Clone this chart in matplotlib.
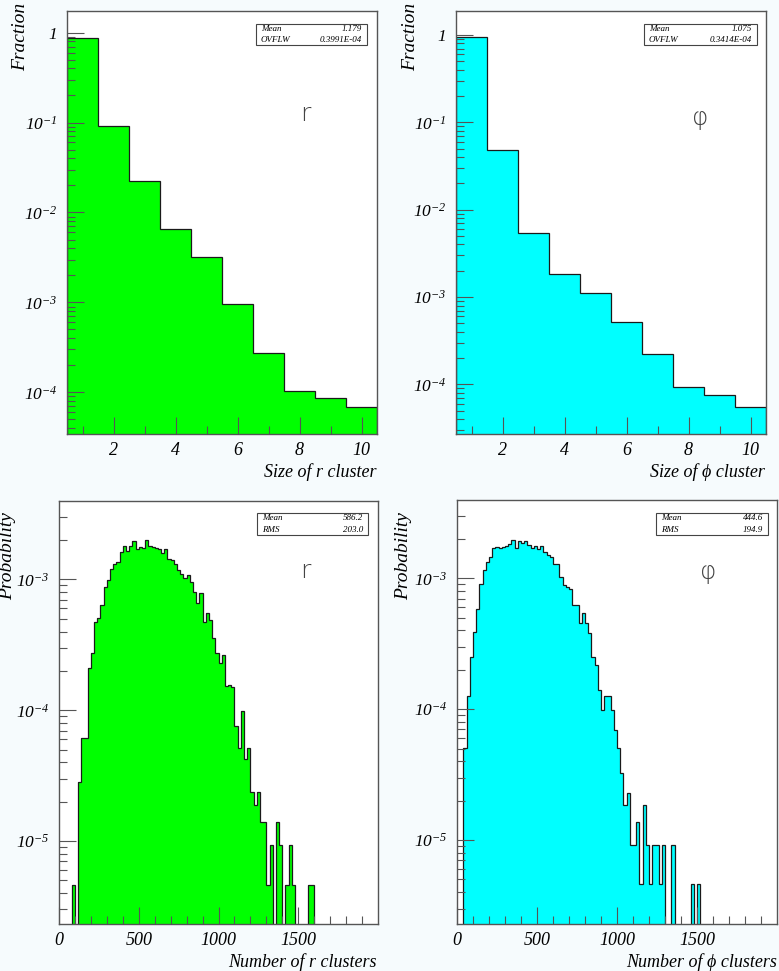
import numpy as np
import matplotlib.pyplot as plt
from matplotlib.ticker import FixedLocator, LogLocator, FuncFormatter, NullFormatter
from matplotlib.patches import Rectangle

# cluster size distributions (fraction per size bin 1..10)
size_bins = np.arange(1, 11)
size_r = [0.865, 0.0926, 0.0225, 0.00647, 0.00319, 9.5e-4, 2.74e-4, 1.03e-4, 8.58e-5, 6.81e-5]
size_phi = [0.95, 0.0479, 0.00543, 0.00183, 0.00111, 5.22e-4, 2.23e-4, 9.3e-5, 7.6e-5, 5.5e-5]

# number of clusters per event, 100 bins of 20 from 0 to 2000
n_edges = np.arange(0, 2001, 20)
num_r = [0, 0, 0, 0, 4.65e-6, 0, 2.82e-5, 6.11e-5, 6.11e-5, 2.09e-4,
         2.76e-4, 4.70e-4, 5.04e-4, 6.37e-4, 8.69e-4, 9.89e-4, 1.21e-3, 1.32e-3, 1.36e-3, 1.62e-3,
         1.80e-3, 1.64e-3, 1.80e-3, 1.97e-3, 1.71e-3, 1.77e-3, 1.75e-3, 2.02e-3, 1.80e-3, 1.77e-3,
         1.75e-3, 1.71e-3, 1.58e-3, 1.71e-3, 1.44e-3, 1.41e-3, 1.32e-3, 1.19e-3, 1.11e-3, 1.02e-3,
         1.08e-3, 9.60e-4, 8.05e-4, 6.56e-4, 7.82e-4, 4.75e-4, 5.57e-4, 4.90e-4, 3.55e-4, 2.76e-4,
         2.29e-4, 2.64e-4, 1.53e-4, 1.56e-4, 1.50e-4, 7.64e-5, 5.13e-5, 9.88e-5, 4.25e-5, 5.13e-5,
         2.36e-5, 1.89e-5, 2.36e-5, 1.40e-5, 1.40e-5, 4.65e-6, 9.3e-6, 0, 1.40e-5, 9.3e-6,
         0, 4.65e-6, 9.3e-6, 4.65e-6, 0, 0, 0, 0, 4.65e-6, 4.65e-6] + [0] * 20
num_phi = [0, 0, 5.02e-5, 1.25e-4, 2.49e-4, 3.91e-4, 5.79e-4, 9.05e-4, 1.16e-3, 1.32e-3,
           1.45e-3, 1.69e-3, 1.72e-3, 1.69e-3, 1.72e-3, 1.77e-3, 1.83e-3, 1.96e-3, 1.69e-3, 1.94e-3,
           1.87e-3, 1.91e-3, 1.80e-3, 1.69e-3, 1.77e-3, 1.67e-3, 1.77e-3, 1.60e-3, 1.51e-3, 1.45e-3,
           1.29e-3, 1.29e-3, 1.03e-3, 8.89e-4, 8.53e-4, 8.24e-4, 6.25e-4, 6.25e-4, 4.58e-4, 5.40e-4,
           4.58e-4, 3.85e-4, 2.52e-4, 2.18e-4, 1.40e-4, 9.86e-5, 1.25e-4, 1.25e-4, 9.86e-5, 6.93e-5,
           5.02e-5, 3.24e-5, 1.85e-5, 2.30e-5, 9.2e-6, 9.2e-6, 1.38e-5, 4.6e-6, 1.85e-5, 9.2e-6,
           4.6e-6, 9.2e-6, 9.2e-6, 4.6e-6, 9.2e-6, 0, 0, 9.2e-6, 0, 0,
           0, 0, 0, 4.6e-6, 0, 4.6e-6] + [0] * 24

stats = [
    [("Mean", "1.179"), ("OVFLW", "0.3991E-04")],
    [("Mean", "1.075"), ("OVFLW", "0.3414E-04")],
    [("Mean", "586.2"), ("RMS", "203.0")],
    [("Mean", "444.6"), ("RMS", "194.9")],
]

GREEN = "#00ff00"
CYAN = "#00ffff"
FRAME = "#555555"

plt.rcParams["font.family"] = ["Liberation Serif", "DejaVu Serif"]
plt.rcParams["font.style"] = "italic"
plt.rcParams["mathtext.fontset"] = "custom"
plt.rcParams["mathtext.rm"] = "Liberation Serif:italic"
plt.rcParams["mathtext.it"] = "Liberation Serif:italic"

W, H = 779, 971
fig = plt.figure(figsize=(W / 100, H / 100), dpi=100)
fig.patch.set_facecolor("#f6fbfd")


def px(l, t, r, b):
    return [l / W, 1 - b / H, (r - l) / W, (b - t) / H]


def logfmt(v, pos):
    e = int(round(np.log10(v)))
    if e == 0:
        return r"$1\;\;\;$"
    return r"$10^{%d}$" % e


def frame(ax):
    for s in ax.spines.values():
        s.set_color(FRAME)
        s.set_linewidth(1.0)
    ax.set_yscale("log")
    ax.yaxis.set_major_locator(LogLocator(base=10, numticks=20))
    ax.yaxis.set_minor_locator(LogLocator(base=10, subs=np.arange(2, 10), numticks=20))
    ax.yaxis.set_major_formatter(FuncFormatter(logfmt))
    ax.yaxis.set_minor_formatter(NullFormatter())
    ax.tick_params(which="both", direction="in", color=FRAME, width=0.8,
                   top=False, right=False, labelsize=13)
    ax.tick_params(axis="y", labelsize=12.5)
    ax.tick_params(which="major", length=12)
    ax.tick_params(which="minor", length=6)
    ax.tick_params(axis="y", pad=7)
    ax.tick_params(axis="x", pad=6)


def statbox(l, t, r, b, rows):
    fig.add_artist(Rectangle((l / W, 1 - b / H), (r - l) / W, (b - t) / H,
                             transform=fig.transFigure, fill=False,
                             edgecolor="#444444", linewidth=0.8))
    rh = (b - t) / len(rows)
    for i, (k, v) in enumerate(rows):
        yc = 1 - (t + rh * (i + 0.5)) / H
        fig.text((l + 5) / W, yc, k, fontsize=6.5, va="center", ha="left")
        fig.text((r - 5) / W, yc, v, fontsize=6.5, va="center", ha="right")


def stepfill(ax, edges, vals, color):
    vals = np.asarray(vals, dtype=float)
    vals = np.where(vals > 0, vals, 1e-12)
    ax.stairs(vals, edges, baseline=1e-12, fill=True, facecolor=color, edgecolor="none")
    ax.stairs(vals, edges, baseline=1e-12, fill=False, edgecolor="#1a1a1a", linewidth=0.9)


size_edges = np.append(size_bins - 0.5, size_bins[-1] + 0.5)

# top left
ax1 = fig.add_axes(px(67, 11, 377, 434))
stepfill(ax1, size_edges, size_r, GREEN)
ax1.set_xlim(0.5, 10.5)
ax1.set_ylim(10 ** -4.463, 10 ** 0.24)
frame(ax1)

# top right
ax2 = fig.add_axes(px(456, 11, 766, 434))
stepfill(ax2, size_edges, size_phi, CYAN)
ax2.set_xlim(0.5, 10.5)
ax2.set_ylim(10 ** -4.568, 10 ** 0.275)
frame(ax2)

for ax in (ax1, ax2):
    ax.xaxis.set_major_locator(FixedLocator([2, 4, 6, 8, 10]))
    ax.xaxis.set_minor_locator(FixedLocator([1, 3, 5, 7, 9]))

# bottom left
ax3 = fig.add_axes(px(59, 501, 378, 924))
stepfill(ax3, n_edges, num_r, GREEN)
ax3.set_ylim(10 ** -5.634, 10 ** -2.40)

# bottom right
ax4 = fig.add_axes(px(457, 500, 777, 924))
stepfill(ax4, n_edges, num_phi, CYAN)
ax4.set_ylim(10 ** -5.641, 10 ** -2.402)

for ax in (ax3, ax4):
    frame(ax)
    ax.set_xlim(0, 2000)
    ax.xaxis.set_major_locator(FixedLocator([0, 500, 1000, 1500]))
    ax.xaxis.set_minor_locator(FixedLocator(np.arange(100, 2000, 100)))

# axis titles
fig.text(21 / W, 1 - 3 / H, "Fraction", rotation=90, ha="center", va="top", fontsize=14)
fig.text(411 / W, 1 - 3 / H, "Fraction", rotation=90, ha="center", va="top", fontsize=14)
fig.text(8 / W, 1 - 512 / H, "Probability", rotation=90, ha="center", va="top", fontsize=14)
fig.text(404 / W, 1 - 512 / H, "Probability", rotation=90, ha="center", va="top", fontsize=14)
fig.text(377 / W, 1 - 472 / H, "Size of r cluster", ha="right", va="center", fontsize=13)
fig.text(765 / W, 1 - 472 / H, "Size of \u03d5 cluster", ha="right", va="center", fontsize=13)
fig.text(377 / W, 1 - 962 / H, "Number of r clusters", ha="right", va="center", fontsize=13)
fig.text(777 / W, 1 - 962 / H, "Number of \u03d5 clusters", ha="right", va="center", fontsize=13)

# panel symbols
sym = dict(family="DejaVu Sans", fontsize=18, color="#444444", ha="center", va="center",
           fontweight="light", style="normal")
fig.text(305 / W, 1 - 114 / H, "r", **sym)
fig.text(700 / W, 1 - 118 / H, "\u03c6", **sym)
fig.text(305 / W, 1 - 571 / H, "r", **sym)
fig.text(708 / W, 1 - 572 / H, "\u03c6", **sym)

statbox(256, 24, 367, 45, stats[0])
statbox(644, 24, 757, 45, stats[1])
statbox(257, 513, 368, 535, stats[2])
statbox(656, 513, 768, 535, stats[3])

fig.savefig("out.png", dpi=100, facecolor=fig.get_facecolor())
